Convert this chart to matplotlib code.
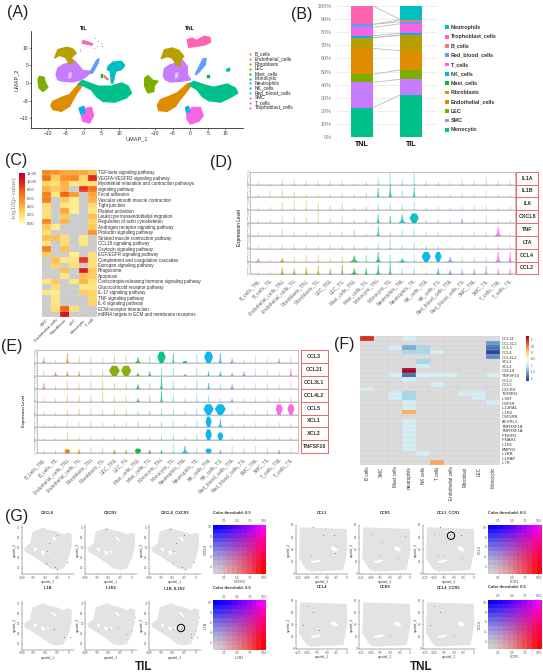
import numpy as np
import matplotlib
matplotlib.use('Agg')
import matplotlib.pyplot as plt
from matplotlib.colors import LinearSegmentedColormap, Normalize
from matplotlib.patches import Circle, Rectangle

plt.rcParams['font.family'] = ['Liberation Sans', 'DejaVu Sans']

W, H = 543, 672

TYPE_COLORS = {'B_cells': '#F8766D', 'Endothelial_cells': '#DE8C00', 'Fibroblasts': '#B79F00',
               'LEC': '#7CAE00', 'Mast_cells': '#00BA38', 'Monocytic': '#00C08B',
               'Neutrophils': '#00BFC4', 'NK_cells': '#00B4F0', 'Red_blood_cells': '#619CFF',
               'SMC': '#C77CFF', 'T_cells': '#F564E3', 'Trophoblast_cells': '#FF64B0'}

# ---- A: cluster outlines in UMAP coordinates
UMAP_TIL = {
    'SMC': [(-7.8, 2.4), (-7.3, 4.2), (-5.8, 5.2), (-4, 5.7), (-3, 6.6), (-1.6, 5.2), (-0.2, 3.5), (2.2, 3.3), (0.8, 1.9), (-0.7, 0.9), (-3, 0.3), (-5.8, 0.5), (-7.3, 0.9)],
    'Fibroblasts': [(-8.2, 7.1), (-7.3, 9.4), (-4.9, 10.1), (-3.2, 9.7), (-2.1, 8.5), (-3.5, 7.1), (-3, 5.7), (-4, 5.4), (-5.2, 7.3), (-6.8, 7.8)],
    'LEC': [(-12.9, 0.9), (-12.5, 1.9), (-11.2, 1.6), (-10.8, 0), (-10.1, -1.2), (-11.5, -2.4), (-12.6, -1.4)],
    'Endothelial_cells': [(-9.3, -6.3), (-8.7, -5.2), (-6.3, -4.1), (-4, -3.3), (-1.6, -0.5), (-0.7, 0.5), (-0.2, -0.5), (-1.6, -2.4), (-3, -4.7), (-4, -6.6), (-6.3, -8), (-8.7, -7.5)],
    'Monocytic': [(-1.6, -0.3), (-0.2, 0.7), (1.7, 0), (4.1, -0.9), (7.8, -0.9), (10.7, 0), (12.6, -0.9), (13.5, -2.8), (12.1, -4.2), (8.8, -5.4), (5.5, -5.2), (3.6, -3.8), (2.2, -1.9), (-0.2, -0.7)],
    'Neutrophils': [(6.9, 4.7), (8.3, 5.9), (10.7, 6.1), (11.6, 5), (10.7, 3.8), (9, 3.3), (8.3, 0), (7.8, 0), (7.6, 3.3), (6.7, 3.8)],
    'Red_blood_cells': [(1.7, 2.8), (3.6, 6.3), (4.3, 6.9), (4.1, 5.7), (2.5, 2.8)],
    'T_cells': [(-0.7, -9), (0.8, -7.1), (2.2, -6.9), (2.8, -9.2), (1.7, -11.3), (-0.2, -10.8)],
    'NK_cells': [(-1.3, -7.1), (0.1, -6.6), (0.3, -8.5), (-0.8, -8.8)],
    'Trophoblast_cells': [(-0.2, 12), (1.2, 11.6), (2.6, 11), (2.2, 10.7), (0.8, 11), (-0.4, 11.3)],
    'Mast_cells': [(4.8, 2.6), (5.2, 2.6), (5.2, 1.8), (4.8, 1.8)],
    'B_cells': [(5.9, 2.1), (6.9, 1.0), (6.7, 0.9), (5.7, 1.9)],
}
UMAP_TNL = {
    'SMC': [(-7.6, 1.9), (-7.3, 4.1), (-5.6, 5.2), (-3.7, 5.7), (-2.7, 7.1), (-0.8, 4.7), (-0.8, 2.4), (0.1, 0.9), (-2.7, 0.5), (-5.6, 0.3), (-7, 0.9)],
    'Fibroblasts': [(-8.2, 6.9), (-7.3, 9.4), (-5.1, 9.9), (-3.2, 9.2), (-1.8, 7.5), (-2.7, 6.6), (-2.9, 4.7), (-3.9, 5.2), (-5.1, 7.1), (-6.5, 7.5)],
    'LEC': [(-12.9, 1.4), (-12, 2.1), (-10.5, 0.7), (-9.1, 0.5), (-10.2, -0.7), (-10.3, -2.4), (-12, -2.8), (-12.9, -0.9)],
    'Endothelial_cells': [(-9.3, -6.3), (-8.4, -4.7), (-6, -3.8), (-3.7, -2.8), (-0.8, -0.3), (-0.1, 0), (0.1, -0.9), (-1.3, -2.8), (-2.9, -4.7), (-4.2, -6.6), (-6.5, -8), (-8.9, -7.8)],
    'Monocytic': [(-0.4, -0.5), (1, 0.5), (3.9, -0.5), (6.7, -1.2), (10.5, -0.3), (12.8, -1.4), (13.5, -2.8), (11.4, -4.1), (8.6, -5.4), (5.3, -5), (3.4, -3.8), (2, -1.9)],
    'Neutrophils': [(10.3, 3.8), (11.2, 4.2), (11.2, 3.5), (10.5, 3.3)],
    'Red_blood_cells': [(1.5, 2.5), (3.7, 6.9), (4.5, 6.9), (4.3, 5.2), (2.7, 3.3), (1.8, 2.4)],
    'T_cells': [(-1, -8.5), (0.6, -6.9), (2.9, -6.9), (3.7, -9.2), (2.5, -10.8), (0.1, -11.6), (-0.8, -10.4)],
    'NK_cells': [(-1.3, -6.9), (-0.4, -6.6), (-0.2, -8.2), (-1.1, -8.2)],
    'Trophoblast_cells': [(-0.8, 12.3), (0.6, 12.7), (1.8, 12), (3.9, 13.2), (5.6, 12.9), (5.8, 11.6), (4.3, 10.8), (1.8, 10.4), (-0.4, 10.1)],
    'Mast_cells': [(4.7, 2.4), (5.3, 2.4), (5.3, 1.7), (4.7, 1.7)],
}
SMC_SPECKLE = [(-4.2, 3.0), (-3.3, 3.0), (-3.5, 1.4), (-4.4, 1.2)]
UMAP_SPECK_X = [3.2, 4.0, 4.8, 5.2, 3.9, 2.8, -1.0, -0.9, 7.0, 7.6]
UMAP_SPECK_Y = [12.6, 12.0, 11.2, 10.6, 10.6, 10.0, 9.6, 9.0, 1.4, 0.6]
LEGEND_A = ['B_cells', 'Endothelial_cells', 'Fibroblasts', 'LEC', 'Mast_cells', 'Monocytic',
            'Neutrophils', 'NK_cells', 'Red_blood_cells', 'SMC', 'T_cells', 'Trophoblast_cells']

# ---- B: composition, bottom to top
STACK_NAMES = ['Monocytic', 'SMC', 'LEC', 'Endothelial_cells', 'Fibroblasts', 'Mast_cells',
               'NK_cells', 'T_cells', 'Red_blood_cells', 'B_cells', 'Trophoblast_cells', 'Neutrophils']
STACK_TNL = [22.5, 19.2, 6.1, 19.7, 8.1, 0.1, 1.5, 6.3, 2.3, 0.1, 14.0, 0.1]
STACK_TIL = [32.2, 11.9, 7.1, 14.7, 11.6, 0.2, 1.3, 7.3, 1.5, 1.5, 0.2, 10.9]

# ---- C: enrichment heatmap (nan = not significant)
n = np.nan
PATHWAYS = ['TGF-beta signaling pathway', 'VEGFA-VEGFR2 signaling pathway', 'Myometrial relaxation and contraction pathways',
            'signaling pathway', 'Focal adhesion', 'Vascular smooth muscle contraction', 'Tight junction', 'Platelet activation',
            'Leukocyte transendothelial migration', 'Regulation of actin cytoskeleton', 'Androgen receptor signaling pathway',
            'Prolactin signaling pathway', 'Striated muscle contraction pathway', 'CCL18 signaling pathway', 'Oxytocin signaling pathway',
            'EGF/EGFR signaling pathway', 'Complement and coagulation cascades', 'Estrogen signaling pathway', 'Phagosome', 'Apoptosis',
            'Corticotropin-releasing hormone signaling pathway', 'Glucocorticoid receptor pathway', 'IL-17 signaling pathway',
            'TNF signaling pathway', 'IL-6 signaling pathway', 'ECM-receptor interaction', 'miRNA targets in ECM and membrane receptors']
PATHWAY_CELLS = ['SMC', 'Endothelial cells', 'Fibroblasts', 'LEC', 'Monocytic', 'T cell']
ENRICH = [[6, 5.5, 4.5, 4.5, 4.5, 3.5], [7, 3, 5.5, 6, 2.5, 9.5], [2.5, 2, 4, 1.5, 2, 2], [4, 3, 4, n, 9, 7],
          [6.5, 1.5, 7.5, 5, n, 4.5], [6.5, n, 3, 1, n, 4], [2, n, 1.5, 1, n, 2], [2, n, 4.5, 1, n, 1.5],
          [2, n, 3, n, n, 3.5], [6, n, 4, n, n, 2.5], [3, 1, n, n, n, 3], [2, n, n, n, n, 5.5],
          [3.5, 3.5, 2, n, 1.5, n], [1.5, n, 2, n, 1.5, n], [6.5, n, 3.5, n, n, n], [3, n, n, 1, n, 2],
          [n, 3.5, 1.5, 1.5, 9, 2], [n, 2.5, n, 2, n, 2], [n, n, 3.5, n, 10, 3], [n, n, 1.5, n, 3.5, 3],
          [1.5, 3, n, 1.5, 4, 2], [n, 2, n, n, 1.5, 1.5], [1.5, 1, n, n, 3, 2.5], [n, 1.5, n, n, n, 2.5],
          [n, 1.5, n, n, n, 2.5], [n, 2, 7.5, 2, n, n], [n, n, 10.5, n, n, n]]

# ---- D / E: violins
VIOLIN_TYPES = ['B_cells', 'Endothelial_cells', 'Fibroblasts', 'LEC', 'Mast_cells', 'Monocytic',
                'Neutrophils', 'NK_cells', 'Red_blood_cells', 'SMC', 'T_cells']
VIOLIN_LABELS = [t + s for t in VIOLIN_TYPES for s in ('_TNL', '_TIL')]
D_HEIGHT = {
    'IL1A': [.3, .1, .45, .45, .35, .35, .3, .35, .1, .25, .6, 1, .5, 1, .3, .25, .2, .4, .4, .6, .4, .4],
    'IL1B': [.3, .5, .7, .5, .3, .3, .3, .4, .3, .4, .8, 1, .6, .9, .3, .3, .3, .4, .3, .6, .3, .3],
    'IL6': [.3, .3, .7, .8, .8, .6, .4, .6, .2, .3, .5, .6, .5, .7, .2, .3, .2, .3, .4, .5, .3, .4],
    'CXCL8': [.3, .3, .6, .5, .5, 1, .4, .6, .3, .3, .7, .6, .7, .8, .3, .3, .3, .35, .3, .7, .3, .3],
    'TNF': [.3, .3, .6, .4, .3, .3, .3, .4, .5, .2, .8, .4, .5, .6, .3, .3, .2, .3, .4, .4, .8, .3],
    'LTA': [.3, .2, .4, .4, .3, .3, .3, .3, .3, .2, .5, .8, .3, .5, .3, .3, .2, .3, .3, .4, .4, .4],
    'CCL4': [.3, .2, .3, .4, .5, .5, .3, .4, .5, .5, .8, .6, .3, .6, .8, .8, .4, .4, .4, .4, .8, .8],
    'CCL2': [.3, .3, .6, .5, .6, .7, .5, .8, .5, .5, .8, 1, .5, .6, .2, .5, .4, .4, .5, .7, .5, .5],
}
D_WIDTH = {
    'IL1A': {}, 'IL1B': {10: .1, 11: .15, 13: .12}, 'IL6': {},
    'CXCL8': {10: .14, 11: .08, 12: .4, 13: .75, 17: .14},
    'TNF': {10: .12, 20: .3}, 'LTA': {},
    'CCL4': {0: .2, 2: .25, 8: .4, 10: .2, 12: .4, 14: .75, 15: .55, 16: .3, 20: .25, 21: .12},
    'CCL2': {2: .2, 3: .15, 4: .12, 5: .1, 6: .1, 7: .08, 8: .4, 9: .15, 10: .2, 11: .1, 15: .2, 16: .3, 17: .1, 18: .12, 19: .12, 20: .1, 21: .1},
}
E_HEIGHT = {
    'CCL3': [.45, .3, .8, .6, .6, .5, .7, .6, .5, .6, .95, .8, .2, .8, .95, .8, .4, .3, .6, .5, .4, .6],
    'CCL21': [.5, .35, .4, .4, .6, .5, .85, .85, .3, .4, .7, .7, .2, .7, .4, .4, .3, .4, .6, .5, .4, .6],
    'CCL3L1': [.5, .3, .7, .5, .6, .8, .5, .6, .4, .5, 1, .7, .3, .8, .5, .4, .4, .3, .5, .5, .4, .6],
    'CCL4L2': [.4, .3, .6, .5, .6, .8, .4, .5, .3, .5, .9, .6, .3, .7, .5, .3, .3, .3, .4, .4, .4, .5],
    'CCL5': [.3, .2, .4, .5, .5, .4, .4, .4, .3, .3, .5, .5, .3, .5, .85, .85, .3, .3, .4, .4, .85, .85],
    'XCL1': [.3, .2, .6, .4, .5, .4, .3, .4, .5, .3, .5, .6, .3, .6, .9, .7, .3, .3, .4, .4, .4, .4],
    'XCL2': [.2, .2, .7, .3, .4, .3, .3, .3, .3, .3, .4, .5, .3, .5, .9, .65, .3, .3, .3, .3, .3, .3],
    'TNFSF10': [.3, .3, .35, .35, .5, .5, .3, .3, .4, .3, .3, .8, .6, .4, .4, .3, .6, .4, .6, .5, .3, .4],
}
E_WIDTH = {
    'CCL3': {0: .15, 2: .12, 8: .4, 10: .7, 11: .08, 12: .45, 14: .75, 15: .15, 16: .3, 20: .2},
    'CCL21': {1: .3, 2: .15, 3: .1, 6: .9, 7: .85, 8: .3, 9: .2, 12: .4, 14: .12, 15: .2, 16: .2, 17: .2, 21: .12},
    'CCL3L1': {0: .15, 8: .25, 10: .12, 14: .12, 16: .25},
    'CCL4L2': {8: .2, 10: .1, 16: .2},
    'CCL5': {14: .85, 15: .9, 20: .6, 21: .6},
    'XCL1': {14: .5, 15: .25},
    'XCL2': {14: .55, 15: .5},
    'TNFSF10': {2: .5, 3: .2, 6: .2, 7: .15, 8: .55, 9: .2, 10: .2, 12: .4, 14: .55, 15: .12, 20: .2},
}
BULB_MIN = .44

# ---- F: ligand / receptor heatmap
F_GENES = ['CCL21', 'CCL3L1', 'CCL3', 'CCL4', 'CCL4L2', 'XCL1', 'XCL2', 'CXCL8', 'TNFSF10', 'CCL2', 'CCL5', 'CXCR4',
           'TGFBR2', 'IL6ST', 'CSF1R', 'IL13RA1', 'IL1R2', 'CSF2RB', 'ACVRL1', 'TNFRSF1B', 'TNFRSF1A', 'IFNGR2', 'IFNAR1',
           'IL1R1', 'BMPR2', 'IL2RB', 'IL1RAP', 'IL7R']
F_CELLS = ['B cells', 'SMC', 'Mast cells', 'neutrophils', 'NK cells', 'T cells', 'Endothelial cells', 'Fibroblast', 'LEC', 'Monocytic']
F_VALUES = {
    'CCL21': {0: .9, 3: -.89}, 'CCL3L1': {9: -1.6}, 'CCL3': {2: -.89, 3: -1.48, 4: -1.17, 9: -1.85},
    'CCL4': {3: -1.17, 4: -1.17, 5: -.89, 9: -2.13}, 'CCL4L2': {9: -1.7}, 'XCL1': {4: -1.17}, 'XCL2': {4: -.89},
    'CXCL8': {3: 1.25}, 'TNFSF10': {2: -.89, 3: -1.85, 4: -.89, 5: -.89, 6: -.89, 9: -.89}, 'CCL2': {3: -.89},
    'CCL5': {5: -.89}, 'CXCR4': {0: -.89}, 'TGFBR2': {2: -.89, 3: -1.17, 7: -.89, 8: -.89},
    'IL6ST': {2: -.89, 3: -1.17, 8: -.89}, 'CSF1R': {3: -.89, 9: -.89}, 'IL13RA1': {3: -.89}, 'IL1R2': {3: .2},
    'ACVRL1': {3: -.89}, 'TNFRSF1B': {3: -.89}, 'TNFRSF1A': {3: -.89}, 'IFNGR2': {3: -.89}, 'IFNAR1': {3: -.89},
    'IL1R1': {3: -.89}, 'BMPR2': {3: -.89}, 'IL2RB': {4: -.89}, 'IL7R': {5: .25},
}

# ---- G: spatial sections
TIL_SHAPE = [(-77.7, 65.7), (-54, 69.7), (-43, 67.4), (-28.8, 66.4), (-12.2, 63), (0, 65), (7, 62.4), (5.8, 49.2), (0, 39.3),
             (-10.8, 29.3), (-25.2, 27.7), (-39.6, 29.3), (-54, 34.3), (-75.5, 40.9), (-93.5, 45.9), (-95.7, 49.2), (-82.7, 54.1)]
TIL_HOLES = [[(-75, 49), (-70, 50), (-68, 47), (-73, 46)], [(-60, 46), (-54, 47), (-50, 43), (-57, 43)],
             [(-38, 61), (-30, 60), (-25, 56), (-30, 57)], [(-47, 47), (-42, 46), (-44, 43)]]
TNL_SHAPE = [(-119, 76.2), (0.9, 73.5), (2.6, 38.7), (-7.7, 5.5), (-89, 2.8), (-102, 5.5), (-121.6, 24.9)]
TNL_HOLES = [[(-40, 44), (-30, 44), (-21, 38), (-30, 36), (-38, 39)], [(-92, 20), (-70, 23), (-66, 20), (-88, 17)]]
TIL_PANELS = [[('CXCL8', [(-25.2, 62), (-43, 54.8), (-47.5, 46.9), (-49, 35), (-29, 30.3), (-24, 28.3), (-3.6, 36)], []),
               ('CXCR2', [], [(-55, 68)]),
               ('CXCL8_CXCR2', [(-25.2, 62), (-43, 54.8), (-47.5, 46.9), (-49, 35), (-29, 30.3), (-24, 28.3), (-3.6, 36)], [(-55, 68)])],
              [('IL1B', [(-32, 44), (-11, 36.6), (2, 36.6)], []),
               ('IL1R2', [], [(5.8, 55.8), (-72, 43), (-50, 44), (-29, 45.5), (-11, 39), (-2, 42.5)]),
               ('IL1B_IL1R2', [(-32, 44), (-11, 36.6), (2, 36.6)], [(5.8, 55.8), (-72, 43), (-50, 44), (-29, 45.5), (-11, 39), (-2, 42.5)])]]
TNL_PANELS = [[('CCL3', [(-85, 76), (-60, 63), (-33, 64), (-30, 34)], [(-90, 28)]),
               ('CCR1', [], [(-70, 52), (-30, 25), (-100, 65), (-75, 30), (-12, 62)]),
               ('CCL3_CCR1', [(-85, 76), (-60, 63), (-33, 64)], [(-70, 52), (-30, 25), (-100, 65), (-75, 30), (-90, 28)])],
              [('CCL4', [(-85, 60), (-110, 38), (-70, 30)], [(-100, 70)]),
               ('CCR5', [], [(-50, 20)]),
               ('CCL4_CCR5', [(-85, 60), (-110, 38)], [(-50, 20), (-100, 70)])]]
BLEND_TICKS_X = [2.5, 5.0, 7.5, 10.0]
BLEND_TICKS_Y = [2, 4, 6, 8, 10]
TIL_BLEND = [('CXCR2', 'CXCL8'), ('IL1R2', 'IL1B')]
TNL_BLEND = [('CCR1', 'CCL3'), ('CCR5', 'CCL4')]


def px_ax(x0, y0, x1, y1):
    return fig.add_axes([x0 / W, 1 - y1 / H, (x1 - x0) / W, (y1 - y0) / H])


fig = plt.figure(figsize=(W / 100, H / 100), dpi=100)
page = fig.add_axes([0, 0, 1, 1], zorder=10)
page.set_xlim(0, W)
page.set_ylim(H, 0)
page.axis('off')

for lab, x, y in [('(A)', 7, 12), ('(B)', 291, 15), ('(C)', 5, 161), ('(D)', 210, 163),
                  ('(E)', 1, 347), ('(F)', 334, 344), ('(G)', 5, 517)]:
    page.text(x, y, lab, fontsize=11.5, color='#222222', va='center')

# ---- A
for clusters, x0, x1, title, first in [(UMAP_TIL, 31.3, 136.7, 'TIL', True), (UMAP_TNL, 138, 243, 'TNL', False)]:
    ax = px_ax(x0, 31, x1, 128.3)
    for name, pts in clusters.items():
        ax.fill(*zip(*pts), color=TYPE_COLORS[name], lw=1.0, joinstyle='round')
    ax.fill(*zip(*SMC_SPECKLE), color='#E2C4FF', lw=0)
    if first:
        ax.scatter(UMAP_SPECK_X, UMAP_SPECK_Y, s=0.6, color=TYPE_COLORS['Trophoblast_cells'], lw=0)
    ax.set_xlim(-14.8, 15)
    ax.set_ylim(-12.8, 14.7)
    ax.set_xticks([-10, -5, 0, 5, 10])
    ax.set_yticks([-10, -5, 0, 5, 10] if first else [])
    ax.tick_params(labelsize=3.6, length=1.2, width=0.4, pad=1, colors='#333333')
    ax.spines[['top', 'right']].set_visible(False)
    ax.spines['left'].set_visible(first)
    ax.spines[['left', 'bottom']].set_linewidth(0.5)
    page.text((x0 + x1) / 2 - 0.5, 28, title, fontsize=3.6, fontweight='bold', ha='center', va='center')
page.text(137, 139, 'UMAP_1', fontsize=4.1, ha='center', va='center', color='#333333')
page.text(16, 80, 'UMAP_2', fontsize=4.1, rotation=90, ha='center', va='center', color='#333333')
for i, name in enumerate(LEGEND_A):
    y = 54.3 + i * 4.85
    page.plot([250], [y], 'o', ms=1.6, color=TYPE_COLORS[name], mew=0)
    page.text(255, y, name, fontsize=3.5, va='center', color='#222222')

# ---- B
ax = px_ax(335, 5.7, 436.7, 137.3)
bottom_tnl, bottom_til = 0, 0
for name, a, b in zip(STACK_NAMES, STACK_TNL, STACK_TIL):
    ax.bar([0, 1], [a, b], bottom=[bottom_tnl, bottom_til], width=.437, color=TYPE_COLORS[name], zorder=3)
    bottom_tnl += a
    bottom_til += b
    ax.plot([.218, .782], [bottom_tnl, bottom_til], color='#bbbbbb', lw=0.6, zorder=2)
ax.set_xlim(-.55, 1.524)
ax.set_ylim(0, 100)
ax.set_yticks(range(0, 101, 10))
ax.set_yticklabels([f'{v}%' for v in range(0, 101, 10)], fontsize=3.9, color='#777777')
ax.set_xticks([0, 1])
ax.set_xticklabels(['TNL', 'TIL'], fontsize=5, fontweight='bold')
ax.tick_params(length=0, pad=2.5)
ax.grid(axis='y', color='#e6e6e6', lw=0.5, zorder=0)
ax.spines[:].set_visible(False)
for i, name in enumerate(reversed(STACK_NAMES)):
    y = 27.3 + i * 9.31
    page.add_patch(Rectangle((444.8, y - 1.9), 3.9, 3.8, color=TYPE_COLORS[name], lw=0))
    page.text(451, y, name, fontsize=3.9, fontweight='bold', va='center', color='#333333')


def heat(ax, values, cmap, norm, line_color, rows, cols, row_size, col_size, col_rotation):
    im = ax.imshow(np.ma.masked_invalid(values), cmap=cmap, norm=norm, aspect='auto', interpolation='nearest')
    ax.set_xticks(np.arange(len(cols) + 1) - .5, minor=True)
    ax.set_yticks(np.arange(len(rows) + 1) - .5, minor=True)
    ax.grid(which='minor', color=line_color, lw=0.2)
    ax.tick_params(which='minor', length=0)
    ax.yaxis.tick_right()
    ax.set_yticks(range(len(rows)))
    ax.set_yticklabels(rows, fontsize=row_size, color='#333333')
    ax.set_xticks(range(len(cols)))
    if col_rotation == 45:
        ax.set_xticklabels(cols, fontsize=col_size, rotation=45, ha='right', rotation_mode='anchor', color='#444444')
    else:
        ax.set_xticklabels(cols, fontsize=col_size, rotation=90, color='#333333')
    ax.tick_params(which='major', length=0, pad=1)
    ax.spines[:].set_visible(False)
    return im


# ---- C
enrich_cmap = LinearSegmentedColormap.from_list('enrich', ['#FFFFA8', '#FFD966', '#FFA030', '#F57010', '#E8201E', '#C00030'])
enrich_cmap.set_bad('#CCCCCC')
ax = px_ax(42.3, 169.7, 96.7, 316.7)
mesh = heat(ax, ENRICH, enrich_cmap, Normalize(0, 12), '#dedede', PATHWAYS, PATHWAY_CELLS, 3.25, 3.2, 45)
cax = px_ax(19.3, 173.3, 25.3, 223.3)
cb = fig.colorbar(mesh, cax=cax, ticks=[0, 2, 4, 6, 8, 10, 12])
cb.ax.set_yticklabels([f'{v:.2f}' for v in [0, 2, 4, 6, 8, 10, 12]], fontsize=2.9, color='#444444')
cb.ax.tick_params(length=0, pad=1)
cb.outline.set_visible(False)
page.text(14, 198, '-log10(p-value)', fontsize=4.6, rotation=90, color='#888888', ha='center', va='center')


# ---- D / E
def draw_violin(ax, x, h, w, color):
    t = np.linspace(0, 1, 40)
    if w >= BULB_MIN:
        half = .5 * w * np.clip(1 - np.abs(t - .55) / .62, 0, 1) ** .6
        alpha = .95
    elif w > 0:
        half = .035 + w * np.exp(-t / .22)
        alpha = .8
    else:
        half = .035 + .1 * np.exp(-t / .07)
        alpha = .45
    ax.fill_betweenx(t * h, x - half, x + half, color=color, alpha=alpha, lw=0)


def violin_block(x0, x1, y0, row_h, heights, widths, first_px, step, strip_x0, strip_x1):
    xlim = (1 - (first_px - x0) / step, 1 + (x1 - first_px) / step)
    for r, gene in enumerate(heights):
        top = y0 + r * row_h
        ax = px_ax(x0, top, x1, top + row_h)
        for i, h in enumerate(heights[gene]):
            name = VIOLIN_TYPES[i // 2]
            draw_violin(ax, i + 1, h, widths[gene].get(i, 0), TYPE_COLORS[name])
        ax.axhline(0, color='#666666', lw=1.0, zorder=5)
        ax.set_xlim(*xlim)
        ax.set_ylim(0, 1.02)
        ax.set_yticks([0, .25, .5, .75, 1])
        ax.set_yticklabels(['0', '1', '2', '3', '4'], fontsize=1.9, color='#777777')
        ax.tick_params(axis='y', length=0.8, width=0.25, pad=0.4, color='#777777')
        for s in ax.spines.values():
            s.set_color('#aaaaaa')
            s.set_linewidth(0.5)
        if r == len(heights) - 1:
            ax.set_xticks(range(1, len(VIOLIN_LABELS) + 1))
            ax.set_xticklabels(VIOLIN_LABELS, fontsize=3.55, rotation=45, ha='right', rotation_mode='anchor', color='#666666')
            ax.tick_params(axis='x', length=1, width=0.3, pad=1.5, color='#777777')
        else:
            ax.set_xticks([])
        strip = px_ax(strip_x0, top, strip_x1, top + row_h)
        strip.set_xticks([])
        strip.set_yticks([])
        for s in strip.spines.values():
            s.set_color('#EE6666')
            s.set_linewidth(0.7)
        strip.text(.5, .5, gene, fontsize=3.9, fontweight='bold', ha='center', va='center', transform=strip.transAxes, color='#333333')


violin_block(250, 515, 171.7, 12.83, D_HEIGHT, D_WIDTH, 257.7, 12, 516, 538.3)
page.text(239, 228, 'Expression Level', fontsize=3.4, rotation=90, ha='center', va='center')
violin_block(36.7, 298.3, 350.3, 12.85, E_HEIGHT, E_WIDTH, 43.3, 11.77, 300.7, 327.7)
page.text(24, 411, 'Expression Level', fontsize=3.1, rotation=90, ha='center', va='center')

# ---- F
f_matrix = np.full((len(F_GENES), len(F_CELLS)), np.nan)
for g, cells in F_VALUES.items():
    for c, v in cells.items():
        f_matrix[F_GENES.index(g), c] = v
f_cmap = plt.get_cmap('RdYlBu_r').copy()
f_cmap.set_bad('#DCDCDC')
ax = px_ax(360.3, 336.3, 500.3, 465.2)
mesh = heat(ax, f_matrix, f_cmap, Normalize(-2.2, 1.25), '#cccccc', F_GENES, F_CELLS, 3.0, 3.3, 90)
cax = px_ax(525.7, 336.3, 529.3, 381)
cb = fig.colorbar(mesh, cax=cax, ticks=[-2, -1.5, -1, -.5, 0, .5, 1])
cb.ax.set_yticklabels(['-2', '-1.5', '-1', '-0.5', '0', '0.5', '1'], fontsize=2, color='#444444')
cb.ax.tick_params(length=0, pad=0.8)
cb.outline.set_visible(False)


# ---- G
def section(x0, y0, w, h, shape, holes, blue, red, xlim, ylim, xticks, yticks):
    ax = px_ax(x0, y0, x0 + w, y0 + h)
    ax.fill(*zip(*shape), color='#E3E3E3', lw=0)
    for hole in holes:
        ax.fill(*zip(*hole), color='white', lw=0)
    if blue:
        ax.scatter(*zip(*blue), s=0.7, color='#7777EE', lw=0)
    if red:
        ax.scatter(*zip(*red), s=0.7, color='#EE8888', lw=0)
    ax.set_xlim(*xlim)
    ax.set_ylim(*ylim)
    ax.set_xticks(xticks)
    ax.set_yticks(yticks)
    ax.tick_params(labelsize=2.1, length=0.7, width=0.25, pad=0.3, colors='#555555')
    ax.set_xlabel('spatial_1', fontsize=2.5, labelpad=0.2, color='#444444')
    ax.set_ylabel('spatial_2', fontsize=2.5, labelpad=0.2, color='#444444')
    ax.spines[['top', 'right']].set_visible(False)
    ax.spines[['left', 'bottom']].set_linewidth(0.35)
    ax.spines[['left', 'bottom']].set_color('#555555')


def blend_key(x0, y0, x1, y1, xlab, ylab):
    ax = px_ax(x0, y0, x1, y1)
    v = np.arange(0.5, 11)
    gx, gy = np.meshgrid((v / 10.5) ** 1.4, (v / 10.5) ** 1.4)
    corner = {'o': (.83, .83, .83), 'x': (1, 0, 0), 'y': (0, 0, 1), 'xy': (1, 0, 1)}
    img = np.zeros(gx.shape + (3,))
    for k in range(3):
        img[..., k] = (corner['o'][k] * (1 - gx) * (1 - gy) + corner['x'][k] * gx * (1 - gy)
                       + corner['y'][k] * (1 - gx) * gy + corner['xy'][k] * gx * gy)
    ax.imshow(img, origin='lower', extent=(.45, 10.45, .45, 10.45), aspect='auto', interpolation='nearest')
    ax.set_xticks(BLEND_TICKS_X)
    ax.set_xticklabels([f'{t:.1f}' for t in BLEND_TICKS_X])
    ax.set_yticks(BLEND_TICKS_Y)
    ax.tick_params(labelsize=2.3, length=0.7, width=0.25, pad=0.4, top=True, labeltop=True, colors='#555555')
    ax.set_xlabel(xlab, fontsize=2.5, labelpad=0.3, color='#444444')
    ax.set_ylabel(ylab, fontsize=2.5, labelpad=0.3, color='#444444')
    ax.spines[:].set_visible(False)


PANEL_W = 52
for r, row in enumerate(TIL_PANELS):
    y0 = 525 + r * 75.7
    for c, (name, blue, red) in enumerate(row):
        x0 = [21.7, 85, 149][c]
        section(x0, y0, PANEL_W, 49.3, TIL_SHAPE, TIL_HOLES, blue, red, (-100.7, 10.8), (23.4, 72.3),
                [-100, -75, -50, -25, 0], [30, 40, 50, 60, 70])
        page.text(x0 + 26, y0 - 12.5, name, fontsize=2.9, fontweight='bold', ha='center', va='center', color='#333333')
    blend_key(213.3, y0 - 0.5, 265.7, y0 + 49, *TIL_BLEND[r])
    page.text(213.3, y0 - 12.5, 'Color threshold: 0.5', fontsize=2.9, fontweight='bold', va='center', color='#333333')
for r, row in enumerate(TNL_PANELS):
    y0 = 525 + r * 75
    for c, (name, blue, red) in enumerate(row):
        x0 = [295.7, 359, 422.7][c]
        section(x0, y0, PANEL_W, 49.3, TNL_SHAPE, TNL_HOLES, blue, red, (-130, 3.4), (-1.6, 80),
                [-125, -100, -75, -50, -25, 0], [0, 20, 40, 60, 80])
        page.text(x0 + 26, y0 - 12.5, name, fontsize=2.9, fontweight='bold', ha='center', va='center', color='#333333')
    blend_key(487.7, y0, 540.7, y0 + 49.3, *TNL_BLEND[r])
    page.text(487.7, y0 - 12.5, 'Color threshold: 0.5', fontsize=2.9, fontweight='bold', va='center', color='#333333')

page.add_patch(Circle((181, 628), 3.7, fill=False, ec='black', lw=0.7))
page.add_patch(Circle((451, 535.7), 3.7, fill=False, ec='black', lw=0.7))
page.text(144, 667, 'TIL', fontsize=8.5, fontweight='bold', ha='center', va='center', color='#222222')
page.text(421, 667, 'TNL', fontsize=8.5, fontweight='bold', ha='center', va='center', color='#222222')

fig.savefig('out.png', dpi=100)
